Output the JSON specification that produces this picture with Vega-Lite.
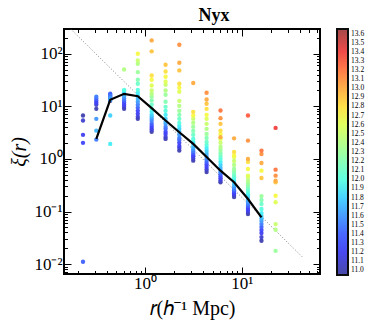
{
  "$schema": "https://vega.github.io/schema/vega-lite/v6.json",
  "autosize": {"type": "none"},
  "padding": {"left": 64, "top": 29, "right": 54, "bottom": 54},
  "width": 256,
  "height": 245,
  "background": "white",
  "config": {
    "view": {"stroke": "black", "strokeWidth": 2},
    "axis": {"grid": false, "domain": false, "tickColor": "black", "tickWidth": 1, "labelColor": "black", "titleColor": "black", "labelFont": "Liberation Serif", "titleFont": "Liberation Serif", "titleFontWeight": "normal"}
  },
  "title": {"text": "Nyx", "font": "Liberation Serif", "fontSize": 18, "fontWeight": "bold", "color": "black", "anchor": "middle", "dx": 22, "offset": 4},
  "datasets": {
    "pts": [
      {"r":0.228,"xi":6.68,"m":11.0},{"r":0.228,"xi":5.37,"m":11.1},{"r":0.228,"xi":2.87,"m":11.2},{"r":0.228,"xi":2.02,"m":11.3},{"r":0.228,"xi":0.0111,"m":11.4},
      {"r":0.313,"xi":8.96,"m":11.0},{"r":0.313,"xi":10.7,"m":11.1},{"r":0.313,"xi":11.7,"m":11.2},{"r":0.313,"xi":12.7,"m":11.3},{"r":0.313,"xi":13.9,"m":11.4},{"r":0.313,"xi":15.2,"m":11.5},{"r":0.313,"xi":5.78,"m":11.6},{"r":0.313,"xi":3.46,"m":11.7},{"r":0.313,"xi":2.33,"m":11.5},
      {"r":0.436,"xi":12.7,"m":11.0},{"r":0.436,"xi":13.9,"m":11.1},{"r":0.436,"xi":15.2,"m":11.2},{"r":0.436,"xi":16.6,"m":11.3},{"r":0.436,"xi":17.3,"m":11.4},{"r":0.436,"xi":15.85,"m":11.5},{"r":0.436,"xi":14.5,"m":11.6},{"r":0.436,"xi":13.3,"m":11.7},{"r":0.436,"xi":6.68,"m":11.8},{"r":0.436,"xi":1.93,"m":11.9},
      {"r":0.607,"xi":8.96,"m":11.0},{"r":0.607,"xi":9.78,"m":11.1},{"r":0.607,"xi":10.7,"m":11.2},{"r":0.607,"xi":11.7,"m":11.3},{"r":0.607,"xi":12.7,"m":11.4},{"r":0.607,"xi":13.9,"m":11.5},{"r":0.607,"xi":15.2,"m":11.6},{"r":0.607,"xi":16.6,"m":11.7},{"r":0.607,"xi":18.1,"m":11.8},{"r":0.607,"xi":19.7,"m":11.9},{"r":0.607,"xi":20.6,"m":12.0},{"r":0.607,"xi":50.2,"m":12.4},
      {"r":0.841,"xi":5.78,"m":11.0},{"r":0.841,"xi":6.31,"m":11.1},{"r":0.841,"xi":7.2,"m":11.2},{"r":0.841,"xi":8.21,"m":11.3},{"r":0.841,"xi":9.36,"m":11.4},{"r":0.841,"xi":10.7,"m":11.5},{"r":0.841,"xi":12.2,"m":11.6},{"r":0.841,"xi":13.9,"m":11.7},{"r":0.841,"xi":15.85,"m":11.8},{"r":0.841,"xi":18.1,"m":11.9},{"r":0.841,"xi":20.6,"m":12.0},{"r":0.841,"xi":26.8,"m":12.1},{"r":0.841,"xi":32.0,"m":12.2},{"r":0.841,"xi":44.8,"m":12.3},{"r":0.841,"xi":64.5,"m":12.4},{"r":0.841,"xi":74.5,"m":12.5},{"r":0.841,"xi":100,"m":12.7},
      {"r":1.17,"xi":3.27,"m":11.0},{"r":1.17,"xi":3.57,"m":11.1},{"r":1.17,"xi":3.89,"m":11.2},{"r":1.17,"xi":4.25,"m":11.3},{"r":1.17,"xi":4.64,"m":11.4},{"r":1.17,"xi":5.29,"m":11.5},{"r":1.17,"xi":5.78,"m":11.6},{"r":1.17,"xi":6.31,"m":11.7},{"r":1.17,"xi":6.89,"m":11.8},{"r":1.17,"xi":7.86,"m":11.9},{"r":1.17,"xi":8.96,"m":12.0},{"r":1.17,"xi":10.7,"m":12.1},{"r":1.17,"xi":12.9,"m":12.2},{"r":1.17,"xi":15.2,"m":12.3},{"r":1.17,"xi":17.3,"m":12.4},{"r":1.17,"xi":20.0,"m":12.5},{"r":1.17,"xi":24.9,"m":12.6},{"r":1.17,"xi":32.0,"m":12.7},{"r":1.17,"xi":38.6,"m":12.8},{"r":1.17,"xi":111,"m":12.9},{"r":1.17,"xi":179,"m":13.0},
      {"r":1.63,"xi":2.4,"m":11.0},{"r":1.63,"xi":2.62,"m":11.1},{"r":1.63,"xi":2.99,"m":11.2},{"r":1.63,"xi":3.27,"m":11.3},{"r":1.63,"xi":3.73,"m":11.4},{"r":1.63,"xi":4.07,"m":11.5},{"r":1.63,"xi":4.64,"m":11.6},{"r":1.63,"xi":5.07,"m":11.7},{"r":1.63,"xi":5.78,"m":11.8},{"r":1.63,"xi":6.89,"m":11.9},{"r":1.63,"xi":8.21,"m":12.0},{"r":1.63,"xi":9.78,"m":12.1},{"r":1.63,"xi":12.2,"m":12.2},{"r":1.63,"xi":16.6,"m":12.3},{"r":1.63,"xi":20.0,"m":12.4},{"r":1.63,"xi":25.7,"m":12.5},{"r":1.63,"xi":29.3,"m":12.6},{"r":1.63,"xi":36.5,"m":12.7},{"r":1.63,"xi":46.0,"m":12.8},{"r":1.63,"xi":61.7,"m":12.9},
      {"r":2.26,"xi":1.44,"m":11.0},{"r":2.26,"xi":1.62,"m":11.1},{"r":2.26,"xi":1.77,"m":11.2},{"r":2.26,"xi":2.02,"m":11.3},{"r":2.26,"xi":2.3,"m":11.4},{"r":2.26,"xi":2.51,"m":11.5},{"r":2.26,"xi":2.87,"m":11.6},{"r":2.26,"xi":3.27,"m":11.7},{"r":2.26,"xi":3.73,"m":11.8},{"r":2.26,"xi":4.25,"m":11.9},{"r":2.26,"xi":4.85,"m":12.0},{"r":2.26,"xi":5.78,"m":12.1},{"r":2.26,"xi":6.89,"m":12.2},{"r":2.26,"xi":8.21,"m":12.3},{"r":2.26,"xi":10.2,"m":12.4},{"r":2.26,"xi":12.7,"m":12.5},{"r":2.26,"xi":18.9,"m":12.6},{"r":2.26,"xi":22.5,"m":12.7},{"r":2.26,"xi":26.8,"m":12.8},{"r":2.26,"xi":48.1,"m":12.9},{"r":2.26,"xi":67.4,"m":13.0},{"r":2.26,"xi":148,"m":13.1},
      {"r":3.15,"xi":0.928,"m":11.0},{"r":3.15,"xi":1.02,"m":11.1},{"r":3.15,"xi":1.12,"m":11.2},{"r":3.15,"xi":1.19,"m":11.3},{"r":3.15,"xi":1.3,"m":11.4},{"r":3.15,"xi":1.42,"m":11.5},{"r":3.15,"xi":1.55,"m":11.6},{"r":3.15,"xi":1.69,"m":11.7},{"r":3.15,"xi":1.93,"m":11.8},{"r":3.15,"xi":2.11,"m":11.9},{"r":3.15,"xi":2.4,"m":12.0},{"r":3.15,"xi":2.87,"m":12.1},{"r":3.15,"xi":3.41,"m":12.2},{"r":3.15,"xi":4.07,"m":12.3},{"r":3.15,"xi":4.85,"m":12.4},{"r":3.15,"xi":5.78,"m":12.5},{"r":3.15,"xi":6.68,"m":12.7},{"r":3.15,"xi":7.86,"m":12.8},{"r":3.15,"xi":27.7,"m":13.0},
      {"r":4.33,"xi":0.565,"m":11.0},{"r":4.33,"xi":0.631,"m":11.1},{"r":4.33,"xi":0.705,"m":11.2},{"r":4.33,"xi":0.786,"m":11.3},{"r":4.33,"xi":0.877,"m":11.4},{"r":4.33,"xi":0.978,"m":11.5},{"r":4.33,"xi":1.09,"m":11.6},{"r":4.33,"xi":1.24,"m":11.7},{"r":4.33,"xi":1.42,"m":11.8},{"r":4.33,"xi":1.62,"m":11.9},{"r":4.33,"xi":1.85,"m":12.0},{"r":4.33,"xi":2.11,"m":12.1},{"r":4.33,"xi":2.51,"m":12.2},{"r":4.33,"xi":2.99,"m":12.3},{"r":4.33,"xi":3.73,"m":12.4},{"r":4.33,"xi":4.64,"m":12.5},{"r":4.33,"xi":5.78,"m":12.6},{"r":4.33,"xi":6.89,"m":12.7},{"r":4.33,"xi":8.96,"m":12.8},{"r":4.33,"xi":11.2,"m":12.9},{"r":4.33,"xi":13.5,"m":13.0},{"r":4.33,"xi":18.1,"m":13.1},
      {"r":6.03,"xi":0.36,"m":11.0},{"r":6.03,"xi":0.389,"m":11.1},{"r":6.03,"xi":0.425,"m":11.2},{"r":6.03,"xi":0.464,"m":11.3},{"r":6.03,"xi":0.507,"m":11.4},{"r":6.03,"xi":0.553,"m":11.5},{"r":6.03,"xi":0.598,"m":11.6},{"r":6.03,"xi":0.674,"m":11.7},{"r":6.03,"xi":0.769,"m":11.8},{"r":6.03,"xi":0.877,"m":11.9},{"r":6.03,"xi":1.0,"m":12.0},{"r":6.03,"xi":1.14,"m":12.1},{"r":6.03,"xi":1.3,"m":12.2},{"r":6.03,"xi":1.48,"m":12.3},{"r":6.03,"xi":1.69,"m":12.4},{"r":6.03,"xi":2.02,"m":12.5},{"r":6.03,"xi":2.4,"m":12.6},{"r":6.03,"xi":2.99,"m":12.7},{"r":6.03,"xi":3.46,"m":12.8},{"r":6.03,"xi":4.64,"m":12.9},{"r":6.03,"xi":2.59,"m":13.0},{"r":6.03,"xi":5.96,"m":13.1},{"r":6.03,"xi":8.32,"m":13.2},
      {"r":8.33,"xi":0.189,"m":11.0},{"r":8.33,"xi":0.206,"m":11.1},{"r":8.33,"xi":0.22,"m":11.2},{"r":8.33,"xi":0.235,"m":11.3},{"r":8.33,"xi":0.251,"m":11.4},{"r":8.33,"xi":0.268,"m":11.5},{"r":8.33,"xi":0.293,"m":11.6},{"r":8.33,"xi":0.32,"m":11.7},{"r":8.33,"xi":0.357,"m":11.8},{"r":8.33,"xi":0.398,"m":11.9},{"r":8.33,"xi":0.444,"m":12.0},{"r":8.33,"xi":0.496,"m":12.1},{"r":8.33,"xi":0.565,"m":12.2},{"r":8.33,"xi":0.645,"m":12.3},{"r":8.33,"xi":0.769,"m":12.4},{"r":8.33,"xi":0.916,"m":12.5},{"r":8.33,"xi":1.09,"m":12.6},{"r":8.33,"xi":1.16,"m":12.7},{"r":8.33,"xi":1.36,"m":12.8},{"r":8.33,"xi":2.46,"m":13.0},
      {"r":11.6,"xi":0.0896,"m":11.0},{"r":11.6,"xi":0.0978,"m":11.1},{"r":11.6,"xi":0.107,"m":11.2},{"r":11.6,"xi":0.117,"m":11.3},{"r":11.6,"xi":0.127,"m":11.4},{"r":11.6,"xi":0.139,"m":11.5},{"r":11.6,"xi":0.152,"m":11.6},{"r":11.6,"xi":0.169,"m":11.7},{"r":11.6,"xi":0.189,"m":11.8},{"r":11.6,"xi":0.211,"m":11.9},{"r":11.6,"xi":0.235,"m":12.0},{"r":11.6,"xi":0.268,"m":12.1},{"r":11.6,"xi":0.306,"m":12.2},{"r":11.6,"xi":0.341,"m":12.3},{"r":11.6,"xi":0.386,"m":12.4},{"r":11.6,"xi":0.454,"m":12.5},{"r":11.6,"xi":0.481,"m":12.6},{"r":11.6,"xi":0.645,"m":12.7},{"r":11.6,"xi":0.877,"m":12.8},{"r":11.6,"xi":1.0,"m":13.0},{"r":11.6,"xi":2.23,"m":13.1},{"r":11.6,"xi":6.68,"m":13.3},
      {"r":16.0,"xi":0.0278,"m":11.0},{"r":16.0,"xi":0.0327,"m":11.1},{"r":16.0,"xi":0.0389,"m":11.2},{"r":16.0,"xi":0.0444,"m":11.3},{"r":16.0,"xi":0.0507,"m":11.4},{"r":16.0,"xi":0.0578,"m":11.5},{"r":16.0,"xi":0.0659,"m":11.6},{"r":16.0,"xi":0.0736,"m":11.7},{"r":16.0,"xi":0.0821,"m":11.8},{"r":16.0,"xi":0.0936,"m":11.9},{"r":16.0,"xi":0.112,"m":12.0},{"r":16.0,"xi":0.139,"m":12.1},{"r":16.0,"xi":0.166,"m":12.2},{"r":16.0,"xi":0.197,"m":12.3},{"r":16.0,"xi":0.598,"m":12.7},{"r":16.0,"xi":0.435,"m":12.9},{"r":16.0,"xi":0.839,"m":13.0},{"r":16.0,"xi":1.24,"m":13.1},{"r":16.0,"xi":1.44,"m":13.2},
      {"r":22.4,"xi":0.0179,"m":12.3},{"r":22.4,"xi":0.045,"m":12.4},{"r":22.4,"xi":0.0578,"m":12.5},{"r":22.4,"xi":0.15,"m":12.6},{"r":22.4,"xi":0.2,"m":12.7},{"r":22.4,"xi":0.36,"m":12.9},{"r":22.4,"xi":0.386,"m":13.0},{"r":22.4,"xi":0.481,"m":13.1},{"r":22.4,"xi":0.625,"m":13.2},{"r":22.4,"xi":3.89,"m":13.4}
    ],
    "line": [
      {"r":0.313,"xi":2.4},{"r":0.436,"xi":13.3},{"r":0.607,"xi":17.3},{"r":0.841,"xi":15.6},{"r":1.17,"xi":9.24},{"r":1.63,"xi":5.37},{"r":2.26,"xi":3.22},{"r":3.15,"xi":1.93},{"r":4.33,"xi":1.09},{"r":6.03,"xi":0.598},{"r":8.33,"xi":0.36},{"r":11.6,"xi":0.173},{"r":16.0,"xi":0.0776}
    ],
    "dotted": [
      {"r":0.1686,"xi":299},{"r":42.9,"xi":0.0134}
    ]
  },
  "layer": [
    {
      "data": {"name": "dotted"},
      "mark": {"type": "line", "color": "#808080", "strokeWidth": 1, "strokeDash": [1, 2], "clip": true},
      "encoding": {
        "x": {"field": "r", "type": "quantitative", "axis": null},
        "y": {"field": "xi", "type": "quantitative", "axis": null}
      }
    },
    {
      "data": {"name": "pts"},
      "mark": {"type": "circle", "size": 19, "opacity": 0.95},
      "encoding": {
        "x": {"field": "r", "type": "quantitative", "scale": {"type": "log", "domain": [0.145, 64.5], "nice": false},
          "axis": {"orient": "bottom", "values": [0.2,0.3,0.4,0.5,0.6,0.7,0.8,0.9,1,2,3,4,5,6,7,8,9,10,20,30,40,50,60],
            "labelExpr": "datum.value == 1 ? '10⁰' : datum.value == 10 ? '10¹' : ''",
            "tickSize": {"condition": {"test": "datum.value == 1 || datum.value == 10", "value": -7}, "value": -3.5},
            "labelFontSize": 17, "labelPadding": 8, "labelFlush": false, "labelOverlap": false,
            "title": "𝑟(ℎ⁻¹ Mpc)", "titleFontSize": 20, "titlePadding": 4}},
        "y": {"field": "xi", "type": "quantitative", "scale": {"type": "log", "domain": [0.0065, 295], "nice": false},
          "axis": {"orient": "left", "values": [0.007,0.008,0.009,0.01,0.02,0.03,0.04,0.05,0.06,0.07,0.08,0.09,0.1,0.2,0.3,0.4,0.5,0.6,0.7,0.8,0.9,1,2,3,4,5,6,7,8,9,10,20,30,40,50,60,70,80,90,100,200],
            "labelExpr": "datum.value == 0.01 ? '10⁻²' : datum.value == 0.1 ? '10⁻¹' : datum.value == 1 ? '10⁰' : datum.value == 10 ? '10¹' : datum.value == 100 ? '10²' : ''",
            "tickSize": {"condition": {"test": "datum.value == 0.01 || datum.value == 0.1 || datum.value == 1 || datum.value == 10 || datum.value == 100", "value": -7}, "value": -3.5},
            "labelFontSize": 17, "labelPadding": 9, "labelFlush": false, "labelOverlap": false,
            "title": "ξ(r)", "titleFontSize": 20, "titleFontStyle": "italic", "titlePadding": 4}},
        "color": {"field": "m", "type": "quantitative",
          "scale": {"type": "linear", "interpolate": "rgb",
            "domain": [10.95, 11.247, 11.2875, 11.868, 11.9625, 12.678, 12.732, 13.353, 13.407, 13.65],
            "range": ["#4040a0", "#4040ff", "#4040ff", "#40e4ff", "#4fffe9", "#f2ff46", "#fff140", "#ff4e40", "#ee4040", "#a04040"]},
          "legend": {"orient": "none", "legendX": 273, "legendY": 0, "direction": "vertical", "title": null,
            "gradientLength": 246, "gradientThickness": 11, "gradientStrokeColor": "black", "gradientStrokeWidth": 2,
            "values": [11.0,11.1,11.2,11.3,11.4,11.5,11.6,11.7,11.8,11.9,12.0,12.1,12.2,12.3,12.4,12.5,12.6,12.7,12.8,12.9,13.0,13.1,13.2,13.3,13.4,13.5,13.6],
            "labelExpr": "format(datum.value, '.1f')",
            "labelFont": "Liberation Serif", "labelFontSize": 7.5, "labelColor": "black", "labelOffset": 3, "labelOverlap": false, "labelBaseline": "middle"}}
      }
    },
    {
      "data": {"name": "line"},
      "mark": {"type": "line", "color": "black", "strokeWidth": 2.2},
      "encoding": {
        "x": {"field": "r", "type": "quantitative",
          "axis": {"orient": "top", "values": [0.2,0.3,0.4,0.5,0.6,0.7,0.8,0.9,1,2,3,4,5,6,7,8,9,10,20,30,40,50,60], "labels": false, "title": null,
            "tickSize": {"condition": {"test": "datum.value == 1 || datum.value == 10", "value": -7}, "value": -3.5}}},
        "y": {"field": "xi", "type": "quantitative",
          "axis": {"orient": "right", "values": [0.007,0.008,0.009,0.01,0.02,0.03,0.04,0.05,0.06,0.07,0.08,0.09,0.1,0.2,0.3,0.4,0.5,0.6,0.7,0.8,0.9,1,2,3,4,5,6,7,8,9,10,20,30,40,50,60,70,80,90,100,200], "labels": false, "title": null,
            "tickSize": {"condition": {"test": "datum.value == 0.01 || datum.value == 0.1 || datum.value == 1 || datum.value == 10 || datum.value == 100", "value": -7}, "value": -3.5}}}
      }
    }
  ],
  "resolve": {"axis": {"x": "independent", "y": "independent"}}
}
